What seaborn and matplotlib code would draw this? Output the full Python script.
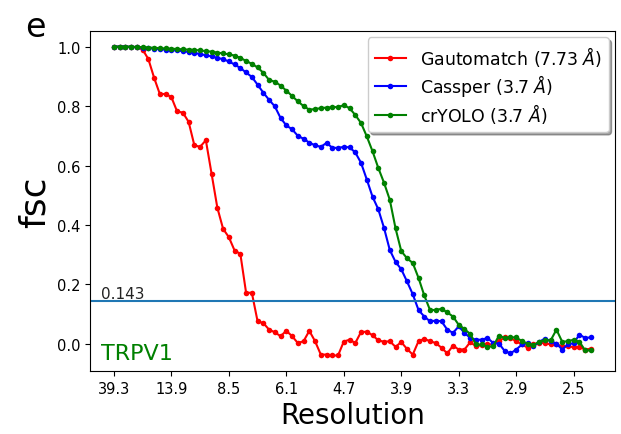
"""FSC curves for TRPV1 (Gautomatch / Cassper / crYOLO)."""

import matplotlib
matplotlib.use('Agg')
import matplotlib.pyplot as plt
import seaborn as sns
import numpy as np

# tick labels (resolution in Angstrom), one every 10 shells
res_labels = ['39.3', '13.9', '8.5', '6.1', '4.7', '3.9', '3.3', '2.9', '2.5']

gautomatch = [
    1.0, 1.0, 1.0, 0.999, 0.998, 0.99, 0.958, 0.895, 0.84, 0.841,
    0.83, 0.782, 0.778, 0.747, 0.668, 0.663, 0.685, 0.572, 0.458, 0.387,
    0.359, 0.314, 0.303, 0.172, 0.172, 0.076, 0.07, 0.048, 0.039, 0.026,
    0.044, 0.026, 0.003, 0.009, 0.044, 0.009, -0.036, -0.036, -0.039, -0.039,
    0.008, 0.014, 0.003, 0.04, 0.041, 0.029, 0.012, 0.007, 0.009, -0.01,
    0.006, -0.017, -0.036, 0.009, 0.017, 0.009, 0.003, -0.013, -0.032, -0.006,
    -0.019, -0.019, 0.006, -0.008, -0.004, -0.002, -0.002, 0.009, 0.022, 0.02,
    0.009, -0.002, -0.013, -0.002, 0.003, 0.003, -0.002, -0.002, -0.008, -0.008,
    -0.011, -0.011, -0.019, -0.016,
]

cassper = [
    1.0, 1.0, 1.0, 0.999, 0.998, 0.997, 0.995, 0.993, 0.991, 0.99,
    0.988, 0.987, 0.985, 0.982, 0.979, 0.975, 0.971, 0.967, 0.962, 0.958,
    0.95, 0.94, 0.928, 0.913, 0.898, 0.872, 0.845, 0.821, 0.799, 0.76,
    0.735, 0.722, 0.7, 0.69, 0.677, 0.668, 0.663, 0.676, 0.66, 0.659,
    0.663, 0.661, 0.644, 0.609, 0.553, 0.495, 0.453, 0.39, 0.316, 0.276,
    0.251, 0.21, 0.167, 0.114, 0.092, 0.076, 0.078, 0.076, 0.048, 0.037,
    0.059, 0.037, 0.02, 0.014, 0.014, 0.02, 0.003, 0.001, -0.024, -0.032,
    -0.019, -0.002, 0.003, -0.008, 0.007, 0.018, 0.009, 0.001, -0.019, -0.002,
    0.003, 0.031, 0.02, 0.022,
]

cryolo = [
    1.0, 1.0, 1.0, 1.0, 0.999, 0.998, 0.997, 0.996, 0.995, 0.994,
    0.993, 0.992, 0.991, 0.99, 0.989, 0.987, 0.985, 0.983, 0.98, 0.977,
    0.974, 0.97, 0.962, 0.952, 0.942, 0.93, 0.912, 0.888, 0.882, 0.869,
    0.852, 0.834, 0.816, 0.8, 0.788, 0.79, 0.793, 0.795, 0.796, 0.797,
    0.803, 0.793, 0.77, 0.743, 0.698, 0.648, 0.592, 0.542, 0.485, 0.389,
    0.312, 0.288, 0.272, 0.222, 0.163, 0.114, 0.114, 0.118, 0.106, 0.092,
    0.064, 0.05, 0.033, -0.002, -0.002, -0.01, -0.008, 0.028, 0.02, 0.022,
    0.022, 0.009, 0.001, -0.004, 0.007, 0.012, 0.012, 0.048, 0.007, 0.009,
    0.014, 0.007, -0.022, -0.022,
]

series = [
    ('Gautomatch (7.73 $\\AA$)', gautomatch, 'red'),
    ('Cassper (3.7 $\\AA$)', cassper, 'blue'),
    ('crYOLO (3.7 $\\AA$)', cryolo, 'green'),
]

fig = plt.figure(figsize=(6.21, 4.35), dpi=100)
ax = fig.add_axes([0.145, 0.145, 0.845, 0.781])

shells = np.arange(len(gautomatch))
for label, vals, color in series:
    sns.lineplot(x=shells, y=vals, ax=ax, color=color, marker='o',
                 markersize=4, mec=color, mew=0, linewidth=1.5, label=label)

# FSC threshold
ax.axhline(0.143, color='#1f77b4', linewidth=1.5)
ax.text(-2.3, 0.155, '0.143', fontsize=11, color='#222222')
ax.text(-2.3, -0.05, 'TRPV1', fontsize=16, color='green')

ax.set_xticks(np.arange(0, 81, 10))
ax.set_xticklabels(res_labels, fontsize=10.5)
ax.tick_params(axis='y', labelsize=10.5)
ax.set_yticks([0.0, 0.2, 0.4, 0.6, 0.8, 1.0])
ax.set_xlabel('Resolution', fontsize=20)
ax.set_ylabel('fsc', fontsize=26)

ax.legend(loc='upper right', shadow=True, fontsize=12.5, labelspacing=0.2,
          handlelength=1.8, borderaxespad=0.35)
fig.text(0.04, 0.915, 'e', fontsize=24)

plt.savefig('out.png', dpi=100)
plt.close()
